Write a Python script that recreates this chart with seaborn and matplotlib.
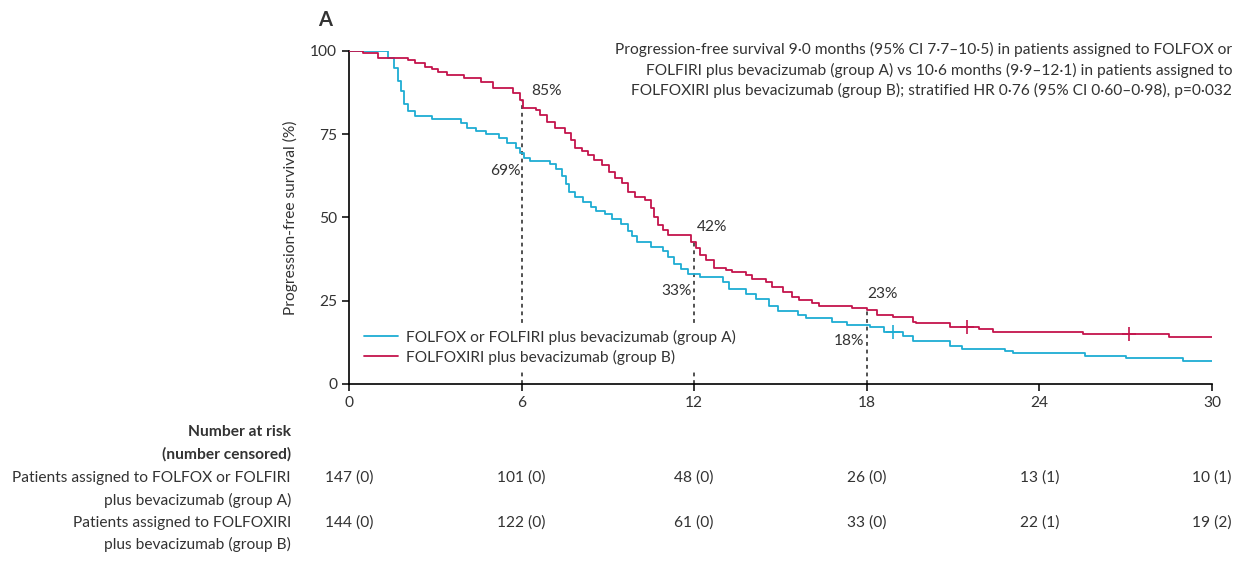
import numpy as np
import pandas as pd
import matplotlib
matplotlib.use("Agg")
import matplotlib.pyplot as plt
import matplotlib.transforms as mtransforms
import seaborn as sns

# step points (month, % progression-free)
a_time = [0, 1.36, 1.55, 1.7, 1.8, 1.9, 2.05, 2.3, 2.9, 3.9, 4.1, 4.4, 4.75, 5.2, 5.5, 5.8, 5.95, 6.1,
          6.3, 7.0, 7.2, 7.4, 7.55, 7.65, 7.85, 8.15, 8.4, 8.6, 8.9, 9.15, 9.45, 9.7, 9.85, 10.0, 10.5,
          10.9, 11.1, 11.3, 11.55, 11.8, 12.2, 13.0, 13.2, 13.8, 14.15, 14.6, 14.9, 15.6, 15.9, 16.8,
          17.3, 18.1, 18.6, 19.25, 19.6, 20.9, 21.3, 22.8, 23.1, 25.6, 27.0, 29.0, 30]
a_surv = [100, 98, 95, 91, 88, 84, 82, 80.5, 79.5, 78.5, 77, 76, 75, 74, 72.5, 71, 69.5, 68,
          67, 66, 64.5, 62.5, 60, 57.5, 56, 54.5, 53, 52, 51, 49.5, 48, 46, 44.5, 42.5, 41,
          40, 38, 36, 34.5, 33, 32.2, 30.5, 28.5, 27, 25.5, 23.5, 21.8, 20.8, 19.8, 18.7,
          17.8, 17, 15.6, 14.5, 12.8, 11.5, 10.6, 10, 9.3, 8.5, 7.8, 7.0, 7.0]

b_time = [0, 0.5, 1.0, 2.05, 2.3, 2.65, 2.9, 3.1, 3.4, 4.0, 4.6, 5.0, 5.7, 5.95, 6.05, 6.5, 6.65,
          6.9, 7.15, 7.5, 7.7, 7.85, 8.1, 8.3, 8.5, 8.8, 9.05, 9.25, 9.5, 9.7, 9.95, 10.3, 10.5,
          10.6, 10.75, 10.9, 11.1, 11.9, 12.05, 12.2, 12.4, 12.7, 13.1, 13.3, 13.8, 14.0, 14.5,
          14.7, 15.1, 15.4, 15.65, 16.1, 16.35, 17.5, 18.0, 18.35, 18.9, 19.6, 19.7, 20.9, 21.9,
          22.4, 25.5, 28.5, 30]
b_surv = [100, 99.4, 98, 97.2, 96.4, 95.2, 94.5, 93.7, 92.8, 91.9, 90.8, 89, 87.5, 85.3, 83, 82.3, 80.8,
          78.8, 77, 75.4, 73.2, 71, 70, 68.8, 67.2, 65.8, 63.7, 61.9, 60.4, 57.7, 56.2, 55.3, 52.9,
          50.2, 47.7, 46.2, 44.7, 42.6, 40.8, 38.7, 37.2, 34.8, 34.2, 33.6, 32.7, 31.5, 30.6,
          29.1, 27.6, 26.1, 25.2, 24.3, 23.4, 22.8, 22.2, 20.7, 20.1, 18.6, 18.3, 17.1, 16.5,
          15.6, 15.0, 14.1, 14.1]

# censor marks
a_cens_t, a_cens_s = [18.9], [15.6]
b_cens_t, b_cens_s = [21.5, 27.1], [17.1, 15.0]

# landmark percentages
mark_t = [6, 12, 18]
mark_a = ["69%", "33%", "18%"]
mark_b = ["85%", "42%", "23%"]
mark_b_val = [85.3, 42.6, 22.4]

label_a = "FOLFOX or FOLFIRI plus bevacizumab (group A)"
label_b = "FOLFOXIRI plus bevacizumab (group B)"

risk_t = [0, 6, 12, 18, 24, 30]
risk_a = ["147 (0)", "101 (0)", "48 (0)", "26 (0)", "13 (1)", "10 (1)"]
risk_b = ["144 (0)", "122 (0)", "61 (0)", "33 (0)", "22 (1)", "19 (2)"]

blue = "#1EADD3"
red = "#C4144C"
txt = "#333333"
fs = 11.2

sns.set_style("ticks")
plt.rcParams["font.family"] = ["Lato", "DejaVu Sans"]
plt.rcParams["font.size"] = fs

df = pd.concat([
    pd.DataFrame({"time": a_time, "surv": a_surv, "group": label_a}),
    pd.DataFrame({"time": b_time, "surv": b_surv, "group": label_b}),
])

fig = plt.figure(figsize=(12.46, 5.67), dpi=100)
ax = fig.add_axes([0.2801, 0.3228, 0.6926, 0.5873])

# dashed landmark lines
for t, v in zip(mark_t, mark_b_val):
    ax.plot([t, t], [0, v], ls=(0, (2.5, 2.5)), color="#222222", lw=1.1, zorder=1)

sns.lineplot(data=df, x="time", y="surv", hue="group", palette=[blue, red],
             drawstyle="steps-post", estimator=None, sort=False, lw=1.3, ax=ax, zorder=3)
ax.plot(a_cens_t, a_cens_s, ls="none", marker="+", ms=10, mew=1.2, color=blue, zorder=4)
ax.plot(b_cens_t, b_cens_s, ls="none", marker="+", ms=10, mew=1.2, color=red, zorder=4)

ax.set_xlim(0, 30)
ax.set_ylim(0, 100)
ax.set_xticks(risk_t)
ax.set_yticks([0, 25, 50, 75, 100])
ax.set_xlabel("")
ax.set_ylabel("Progression-free survival (%)", color=txt, fontsize=fs, labelpad=9)
ax.tick_params(direction="out", length=5, width=1.1, colors="black", labelcolor=txt, labelsize=fs)
sns.despine(ax=ax)
for s in ["left", "bottom"]:
    ax.spines[s].set_linewidth(1.2)
    ax.spines[s].set_color("black")

leg = ax.legend(loc="upper left", bbox_to_anchor=(0.003, 0.2), frameon=True, facecolor="white",
                edgecolor="none", framealpha=1, fontsize=fs, handlelength=2.2,
                handletextpad=0.5, labelspacing=0.3, borderpad=0.3)
for t in leg.get_texts():
    t.set_color(txt)
leg.set_zorder(5)

# percentage labels
ax.text(6.35, 88, mark_b[0], ha="left", va="center", color=txt)
ax.text(5.95, 64, mark_a[0], ha="right", va="center", color=txt)
ax.text(12.1, 47, mark_b[1], ha="left", va="center", color=txt)
ax.text(11.9, 28, mark_a[1], ha="right", va="center", color=txt)
ax.text(18.0, 27, mark_b[2], ha="left", va="center", color=txt)
ax.text(17.9, 13, mark_a[2], ha="right", va="center", color=txt)

fig.text(0.255, 0.965, "A", fontsize=14.5, fontweight="bold", color=txt, va="center")
fig.text(0.9888, 0.926,
         "Progression-free survival 9·0 months (95% CI 7·7–10·5) in patients assigned to FOLFOX or\n"
         "FOLFIRI plus bevacizumab (group A) vs 10·6 months (9·9–12·1) in patients assigned to\n"
         "FOLFOXIRI plus bevacizumab (group B); stratified HR 0·76 (95% CI 0·60–0·98), p=0·032",
         ha="right", va="top", multialignment="right", linespacing=1.45, color=txt)

# number at risk table
trans = mtransforms.blended_transform_factory(ax.transData, fig.transFigure)
lx = 0.2335
fig.text(lx, 0.238, "Number at risk", ha="right", va="center", fontweight="bold", color=txt)
fig.text(lx, 0.198, "(number censored)", ha="right", va="center", fontweight="bold", color=txt)
fig.text(lx, 0.157, "Patients assigned to FOLFOX or FOLFIRI", ha="right", va="center", color=txt)
fig.text(lx, 0.118, "plus bevacizumab (group A)", ha="right", va="center", color=txt)
fig.text(lx, 0.078, "Patients assigned to FOLFOXIRI", ha="right", va="center", color=txt)
fig.text(lx, 0.039, "plus bevacizumab (group B)", ha="right", va="center", color=txt)
for t, ra, rb in zip(risk_t, risk_a, risk_b):
    ax.text(t, 0.157, ra, transform=trans, ha="center", va="center", color=txt)
    ax.text(t, 0.078, rb, transform=trans, ha="center", va="center", color=txt)

fig.savefig("out.png", dpi=100)
